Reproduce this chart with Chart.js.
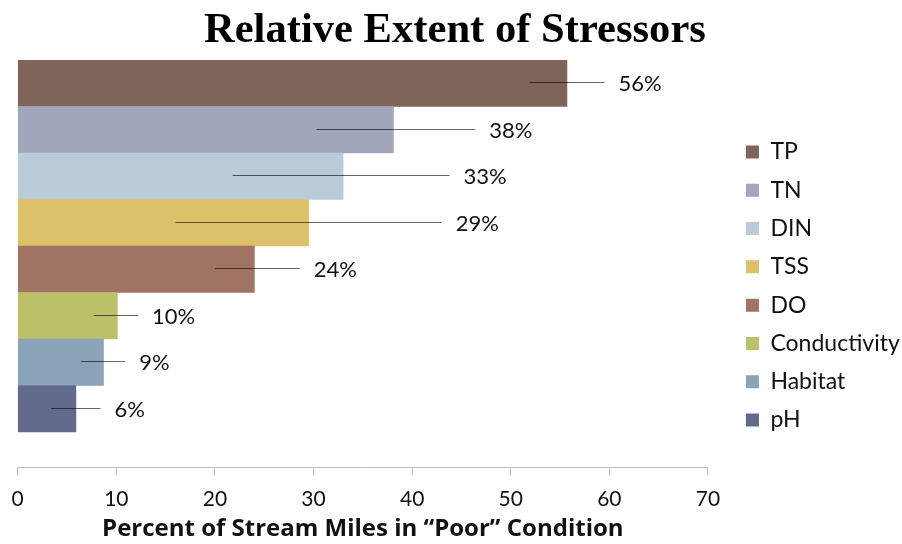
<!DOCTYPE html>
<html>
<head>
<meta charset="utf-8">
<script src="https://cdn.jsdelivr.net/npm/chart.js@4/dist/chart.umd.min.js"></script>
<style>
  html, body { margin: 0; padding: 0; background: #fff; }
  #wrap { width: 902px; height: 544px; }
</style>
</head>
<body>
<div id="wrap"><canvas id="chart"></canvas></div>
<script>
// stressors, top to bottom
const categories = ["TP", "TN", "DIN", "TSS", "DO", "Conductivity", "Habitat", "pH"];
const percentPoor = [55.7, 38.1, 33.0, 29.5, 24.0, 10.1, 8.7, 5.9];
const valueLabels = ["56%", "38%", "33%", "29%", "24%", "10%", "9%", "6%"];
const barColors = ["#7f645a", "#a1a6bd", "#bacbd9", "#ddc16a", "#a17362", "#bbc16b", "#8aa3b8", "#626a8e"];
// leader lines of the data labels, in axis units
const leaderFrom = [51.9, 30.3, 21.8, 16.0, 20.0, 7.7, 6.4, 3.4];
const leaderTo = [59.5, 46.4, 43.8, 43.0, 28.6, 12.2, 10.9, 8.4];
const xTicks = [0, 10, 20, 30, 40, 50, 60, 70];

const SANS = "Lato, 'Open Sans', sans-serif";
const AXIS_GREY = "#bdbdbd";
const TEXT = "#111";

// empty side boxes that hold the plot area away from the edges
const spacer = (position, width) => ({
    type: "linear",
    position,
    display: true,
    grid: { display: false },
    border: { display: false },
    ticks: { display: false },
    afterFit: (s) => { s.width = width; },
});

const leaderLabels = {
    id: "leaderLabels",
    afterDatasetsDraw(chart) {
        const { ctx } = chart;
        const x = chart.scales.x;
        const y = chart.scales.y;
        ctx.save();
        ctx.strokeStyle = "rgba(0,0,0,0.6)";
        ctx.lineWidth = 1.2;
        ctx.fillStyle = TEXT;
        ctx.font = "22px " + SANS;
        ctx.textAlign = "left";
        ctx.textBaseline = "middle";
        categories.forEach((_, i) => {
            const py = Math.round(y.getPixelForValue(i)) - 0.5;
            const x1 = x.getPixelForValue(leaderFrom[i]);
            const x2 = x.getPixelForValue(leaderTo[i]);
            ctx.beginPath();
            ctx.moveTo(x1, py);
            ctx.lineTo(x2, py);
            ctx.stroke();
            ctx.fillText(valueLabels[i], x2 + 14, py + 1.5);
        });
        ctx.restore();
    },
};

new Chart(document.getElementById("chart"), {
    type: "bar",
    data: {
        labels: categories,
        datasets: [{
            label: "Percent of Stream Miles in \u201cPoor\u201d Condition",
            data: percentPoor.map((v, i) => ({ x: v, y: i })),
            backgroundColor: barColors,
            borderWidth: 0,
            barPercentage: 1,
            categoryPercentage: 1,
            xAxisID: "x",
            yAxisID: "y",
        }],
    },
    options: {
        indexAxis: "y",
        responsive: true,
        maintainAspectRatio: false,
        animation: false,
        layout: { padding: { left: 0, right: -7.8, top: 0, bottom: 0 } },
        scales: {
            x: {
                type: "linear",
                min: 0,
                max: 70,
                afterBuildTicks: (s) => { s.ticks = xTicks.map((v) => ({ value: v })); },
                grid: { drawOnChartArea: false, color: AXIS_GREY, tickLength: 8 },
                border: { color: AXIS_GREY },
                ticks: { color: TEXT, padding: 11, font: { family: SANS, size: 21 } },
                title: {
                    display: true,
                    text: "Percent of Stream Miles in \u201cPoor\u201d Condition",
                    color: TEXT,
                    font: { family: "'Open Sans', Lato, sans-serif", size: 24, weight: "bold" },
                    padding: { top: -7.3, bottom: 0 },
                },
            },
            y: {
                type: "linear",
                reverse: true,
                offset: false,
                min: -0.5,
                max: 8.26,
                display: false,
                afterBuildTicks: (s) => { s.ticks = categories.map((_, i) => ({ value: i })); },
            },
            padLeft: spacer("left", 17.7),
            padRight: spacer("right", 22.7),
        },
        plugins: {
            title: {
                display: true,
                text: "Relative Extent of Stressors",
                color: "#000",
                font: { family: "'Liberation Serif', 'Times New Roman', serif", size: 42.6, weight: "bold" },
                padding: { top: 5, bottom: 3.9 },
            },
            legend: {
                position: "right",
                maxWidth: 240,
                title: { display: true, text: "", font: { size: 10, lineHeight: 1 }, padding: { top: 18, bottom: 0 } },
                labels: {
                    boxWidth: 13,
                    boxHeight: 13,
                    padding: 15.3,
                    color: TEXT,
                    font: { family: SANS, size: 23 },
                    generateLabels: () => categories.map((c, i) => ({
                        text: c,
                        fillStyle: barColors[i],
                        strokeStyle: barColors[i],
                        fontColor: TEXT,
                        lineWidth: 0,
                        hidden: false,
                        index: i,
                        datasetIndex: 0,
                    })),
                },
            },
            tooltip: { enabled: false },
        },
    },
    plugins: [leaderLabels],
});
</script>
</body>
</html>
